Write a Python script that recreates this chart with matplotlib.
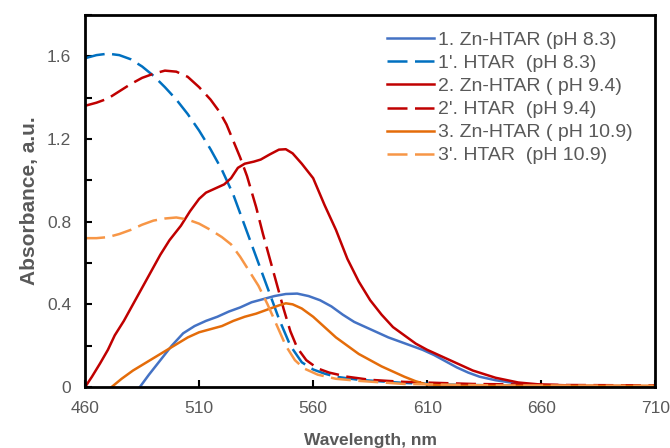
import matplotlib.pyplot as plt
from matplotlib.ticker import MultipleLocator

plt.rcParams['font.family'] = ['Liberation Sans', 'DejaVu Sans']

# 1. Zn-HTAR (pH 8.3)
wl_1 = [484, 488, 493, 498, 503, 508, 513, 518, 523, 528, 533, 538, 543, 548, 553, 558, 563, 568, 573, 578,
        583, 588, 593, 598, 603, 608, 613, 618, 623, 628, 633, 640, 648, 660, 680, 710]
ab_1 = [0, 0.06, 0.13, 0.2, 0.26, 0.295, 0.32, 0.34, 0.365, 0.385, 0.41, 0.425, 0.44, 0.45, 0.452, 0.44, 0.42, 0.39, 0.35, 0.315,
        0.29, 0.265, 0.24, 0.22, 0.2, 0.18, 0.155, 0.125, 0.095, 0.07, 0.05, 0.033, 0.02, 0.007, 0.003, 0.002]
# 1'. HTAR (pH 8.3)
wl_1p = [460, 465, 470, 475, 480, 485, 490, 495, 500, 505, 510, 515, 520, 525, 530, 535, 540, 545, 550, 555,
         560, 565, 570, 580, 600, 620, 660, 710]
ab_1p = [1.59, 1.605, 1.612, 1.605, 1.585, 1.55, 1.505, 1.45, 1.39, 1.32, 1.24, 1.15, 1.05, 0.93, 0.78, 0.63, 0.48, 0.33, 0.2, 0.12,
         0.085, 0.065, 0.05, 0.035, 0.02, 0.012, 0.004, 0.002]
# 2. Zn-HTAR (pH 9.4)
wl_2 = [460, 463, 466.6, 470, 473, 477, 480, 484, 488, 493, 497, 502, 506, 510, 513, 517, 521, 524, 527, 530,
        534, 537, 541, 545, 548, 551, 555, 560, 565, 570, 575, 580, 585, 590, 595, 600, 605, 610, 620, 630,
        640, 650, 660, 680, 710]
ab_2 = [0, 0.05, 0.115, 0.18, 0.25, 0.32, 0.38, 0.46, 0.54, 0.64, 0.71, 0.78, 0.85, 0.91, 0.94, 0.96, 0.98, 1.01, 1.06, 1.08,
        1.09, 1.1, 1.125, 1.148, 1.15, 1.13, 1.08, 1.01, 0.88, 0.76, 0.62, 0.51, 0.42, 0.35, 0.29, 0.25, 0.21, 0.18, 0.13, 0.08,
        0.045, 0.022, 0.012, 0.006, 0.004]
# 2'. HTAR (pH 9.4)
wl_2p = [460, 465, 470, 475, 480, 485, 490, 495, 500, 505, 510, 515, 519, 522, 525, 528, 531, 535, 538, 541,
         544, 547, 550, 553, 557, 562, 567, 575, 585, 600, 630, 670, 710]
ab_2p = [1.36, 1.375, 1.395, 1.43, 1.465, 1.495, 1.515, 1.53, 1.525, 1.5, 1.45, 1.39, 1.33, 1.27, 1.19, 1.11, 1.02, 0.87, 0.74, 0.62,
         0.5, 0.38, 0.27, 0.19, 0.13, 0.09, 0.07, 0.05, 0.035, 0.025, 0.015, 0.01, 0.008]
# 3. Zn-HTAR (pH 10.9)
wl_3 = [471.6, 476, 481, 487, 493, 499, 505, 510, 515, 520, 525, 530, 535, 540, 545, 548, 551, 555, 560, 565,
        570, 575, 580, 585, 590, 595, 600, 605, 610, 620, 710]
ab_3 = [0, 0.04, 0.08, 0.12, 0.16, 0.2, 0.24, 0.265, 0.28, 0.295, 0.32, 0.34, 0.355, 0.375, 0.395, 0.405, 0.4, 0.38, 0.34, 0.29,
        0.24, 0.2, 0.16, 0.13, 0.1, 0.075, 0.05, 0.028, 0.012, 0.006, 0.005]
# 3'. HTAR (pH 10.9)
wl_3p = [460, 465, 470, 475, 480, 485, 490, 495, 500, 505, 510, 515, 520, 524, 528, 532, 536, 540, 544, 548,
         552, 556, 562, 570, 580, 600, 640, 710]
ab_3p = [0.72, 0.72, 0.725, 0.74, 0.76, 0.785, 0.805, 0.815, 0.82, 0.81, 0.79, 0.76, 0.725, 0.69, 0.63, 0.56, 0.49, 0.4, 0.3, 0.2,
         0.13, 0.09, 0.06, 0.04, 0.03, 0.015, 0.008, 0.006]

x_ticks = [460, 510, 560, 610, 660, 710]
y_ticks = [0, 0.4, 0.8, 1.2, 1.6]
y_labels = ['0', '0.4', '0.8', '1.2', '1.6']

fig = plt.figure(figsize=(6.7, 4.48), dpi=100)
ax = fig.add_axes([0.127, 0.136, 0.851, 0.831])

dash = (8, 3)
ax.plot(wl_1, ab_1, color='#4472C4', lw=1.8, label='1. Zn-HTAR (pH 8.3)')
ax.plot(wl_1p, ab_1p, color='#0070C0', lw=1.8, dashes=dash, label="1'. HTAR  (pH 8.3)")
ax.plot(wl_2, ab_2, color='#C00000', lw=1.8, label='2. Zn-HTAR ( pH 9.4)')
ax.plot(wl_2p, ab_2p, color='#C00000', lw=1.8, dashes=dash, label="2'. HTAR  (pH 9.4)")
ax.plot(wl_3, ab_3, color='#E46C0A', lw=1.8, label='3. Zn-HTAR ( pH 10.9)')
ax.plot(wl_3p, ab_3p, color='#F79646', lw=1.8, dashes=dash, label="3'. HTAR  (pH 10.9)")

ax.set_xlim(460, 710)
ax.set_ylim(0, 1.8)
ax.set_xticks(x_ticks)
ax.set_yticks(y_ticks)
ax.set_yticklabels(y_labels)
ax.yaxis.set_minor_locator(MultipleLocator(0.2))
ax.tick_params(direction='in', length=5, width=1.5, colors='black', labelcolor='#595959', labelsize=12.5, pad=10)
ax.tick_params(which='minor', direction='in', length=5, width=1.5)
for s in ax.spines.values():
    s.set_linewidth(2)

ax.set_xlabel('Wavelength, nm', fontsize=12.5, fontweight='bold', color='#595959', labelpad=12)
ax.set_ylabel('Absorbance, a.u.', fontsize=15, fontweight='bold', color='#595959', labelpad=6)

leg = ax.legend(loc='upper left', frameon=False, fontsize=14, handlelength=2.4, handletextpad=0.2,
                labelspacing=0.28, borderaxespad=0, borderpad=0, bbox_to_anchor=(0.53, 0.955))
for t in leg.get_texts():
    t.set_color('#595959')

fig.savefig('out.png', dpi=100)
